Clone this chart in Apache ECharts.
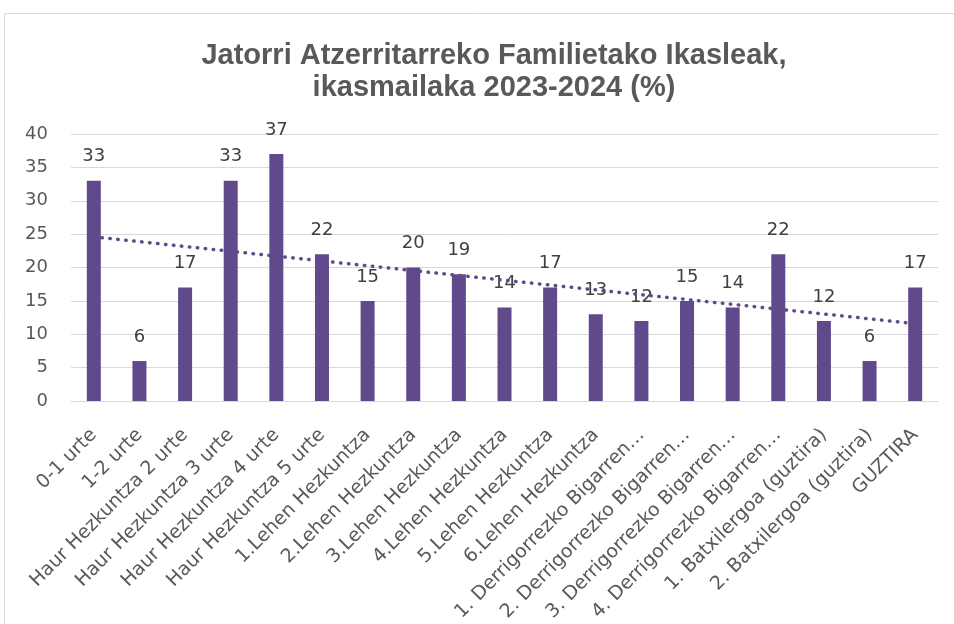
<!DOCTYPE html>
<html>
<head>
<meta charset="utf-8">
<script src="https://cdn.jsdelivr.net/npm/echarts@6/dist/echarts.min.js"></script>
<style>
    html, body { margin: 0; padding: 0; background: #fff; }
    #chart { width: 954px; height: 624px; }
</style>
</head>
<body>
<div id="chart"></div>
<script>
// kategoriak (ikasmailak)
const categories = [
    '0-1 urte', '1-2 urte', 'Haur Hezkuntza 2 urte', 'Haur Hezkuntza 3 urte',
    'Haur Hezkuntza 4 urte', 'Haur Hezkuntza 5 urte', '1.Lehen Hezkuntza',
    '2.Lehen Hezkuntza', '3.Lehen Hezkuntza', '4.Lehen Hezkuntza',
    '5.Lehen Hezkuntza', '6.Lehen Hezkuntza', '1. Derrigorrezko Bigarren…',
    '2. Derrigorrezko Bigarren…', '3. Derrigorrezko Bigarren…',
    '4. Derrigorrezko Bigarren…', '1. Batxilergoa (guztira)',
    '2. Batxilergoa (guztira)', 'GUZTIRA',
];
// ehunekoak
const values = [33, 6, 17, 33, 37, 22, 15, 20, 19, 14, 17, 13, 12, 15, 14, 22, 12, 6, 17];
// joera-lerroa: hasiera eta amaiera (irudian irakurrita)
const trendStart = 24.6;
const trendEnd = 11.6;
const trend = categories.map((c, i) => (i === 0 ? trendStart : (i === categories.length - 1 ? trendEnd : null)));
// ardatzaren marka
const yTicks = { min: 0, max: 40, interval: 5 };

const font = '"DejaVu Sans", sans-serif';
const purple = '#604A8B';

let myChart = echarts.init(document.getElementById('chart'), null, { renderer: 'canvas' });
const option = {
    animation: false,
    title: {
        text: 'Jatorri Atzerritarreko Familietako Ikasleak,\nikasmailaka 2023-2024 (%)',
        left: 489,
        textAlign: 'center',
        top: 35,
        textStyle: {
            fontFamily: '"Liberation Sans", Arial, sans-serif',
            fontWeight: 'bold',
            fontSize: 29,
            lineHeight: 32,
            color: '#595959',
        },
    },
    graphic: [{
        type: 'rect',
        shape: { x: 4.5, y: 13.5, width: 980, height: 640 },
        style: { fill: 'none', stroke: '#d9d9d9', lineWidth: 1 },
        silent: true,
    }],
    grid: {
        left: 71,
        right: 16,
        top: 134,
        bottom: 222,
    },
    xAxis: {
        type: 'category',
        data: categories,
        axisLine: { lineStyle: { color: '#d9d9d9', width: 1 } },
        axisTick: { show: false },
        axisLabel: {
            rotate: 45,
            interval: 0,
            margin: 31,
            fontFamily: font,
            fontSize: 19,
            color: '#595959',
        },
    },
    yAxis: {
        type: 'value',
        min: yTicks.min,
        max: yTicks.max,
        interval: yTicks.interval,
        axisLine: { show: false },
        axisTick: { show: false },
        axisLabel: {
            margin: 23,
            fontFamily: font,
            fontSize: 18,
            color: '#595959',
        },
        splitLine: { lineStyle: { color: '#d9d9d9', width: 1 } },
    },
    series: [
        {
            type: 'bar',
            data: values,
            barWidth: 14,
            itemStyle: { color: purple },
            label: {
                show: true,
                position: 'top',
                distance: 15,
                fontFamily: font,
                fontSize: 18,
                color: '#404040',
            },
        },
        {
            type: 'line',
            data: trend,
            connectNulls: true,
            symbol: 'none',
            silent: true,
            z: 5,
            lineStyle: {
                color: purple,
                width: 3.5,
                type: [0.5, 7.5],
                cap: 'round',
            },
        },
    ],
};
myChart.setOption(option);
</script>
</body>
</html>
